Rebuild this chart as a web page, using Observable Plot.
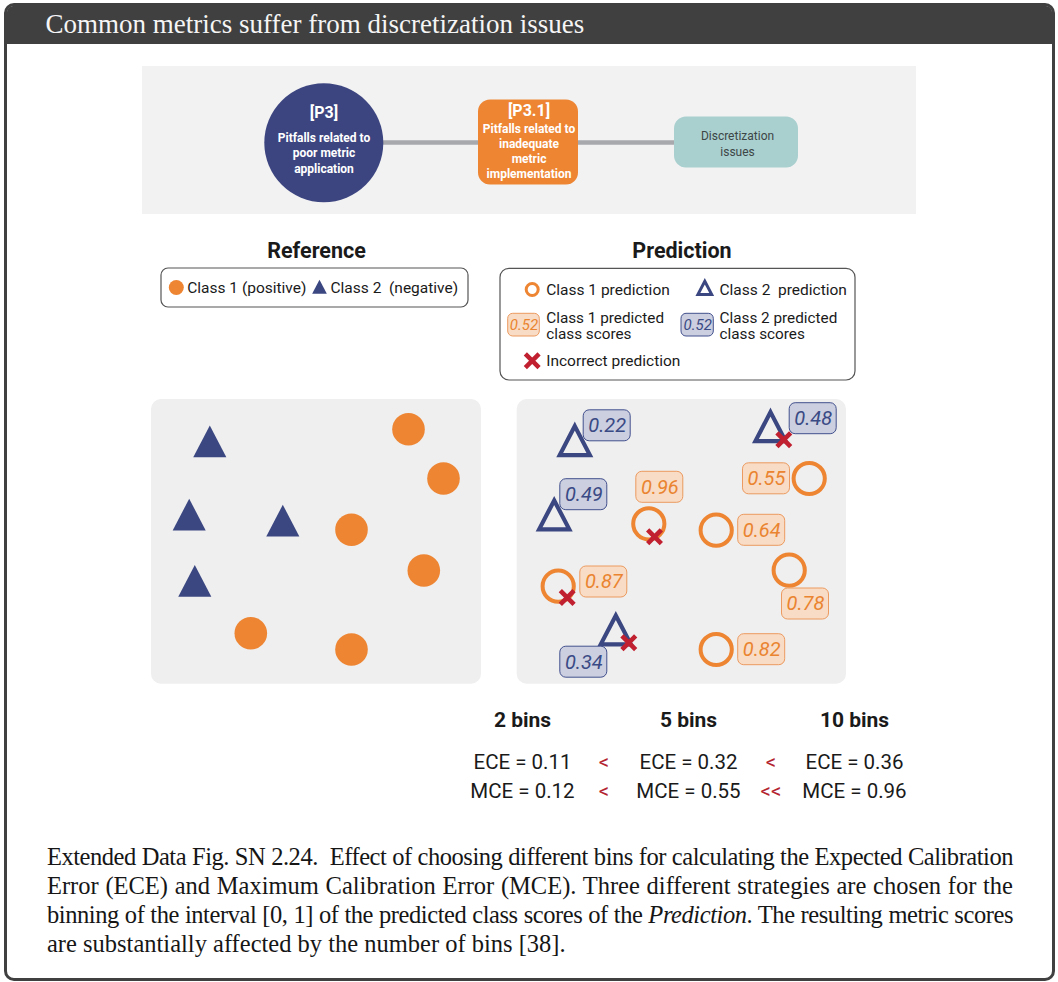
<!DOCTYPE html>
<html>
<head>
<meta charset="utf-8">
<script src="https://cdn.jsdelivr.net/npm/d3@7"></script>
<script src="https://cdn.jsdelivr.net/npm/@observablehq/plot@0.6"></script>
<style>
html, body { margin: 0; padding: 0; background: #fff; }
body { width: 1058px; height: 982px; position: relative; overflow: hidden; }
#frame { position: absolute; left: 4px; top: 3px; width: 1051px; height: 978px; box-sizing: border-box;
  border: 3.5px solid #404040; border-radius: 10px; }
#titlebar { position: absolute; left: 0; top: 0; right: 0; height: 37.5px; background: #404040;
  border-radius: 6px 6px 0 0; color: #f5f5f5; font-family: "Liberation Serif", serif; font-size: 27px;
  line-height: 37px; padding-left: 38.5px; }
#chart { position: absolute; left: 0; top: 0; }
#caption { position: absolute; left: 47px; top: 842px; width: 966px; font-family: "Liberation Serif", serif;
  font-size: 24.5px; line-height: 29px; color: #161616; }
#caption .j { text-align: justify; text-align-last: justify; white-space: nowrap; }
</style>
</head>
<body>
<div id="frame"><div id="titlebar">Common metrics suffer from discretization issues</div></div>
<div id="chart"></div>
<div id="caption">
  <div class="j">Extended Data Fig. SN 2.24.&nbsp; Effect of choosing different bins for calculating the Expected Calibration</div>
  <div class="j">Error (ECE) and Maximum Calibration Error (MCE). Three different strategies are chosen for the</div>
  <div class="j">binning of the interval [0, 1] of the predicted class scores of the <i>Prediction</i>. The resulting metric scores</div>
  <div>are substantially affected by the number of bins [38].</div>
</div>
<script>
// ---------- data ----------
// Reference panel (page units)
const refClass1 = [
  {x: 408.0, y: 428.7}, {x: 443.0, y: 478.0}, {x: 351.0, y: 529.3},
  {x: 423.3, y: 570.0}, {x: 250.3, y: 632.7}, {x: 351.0, y: 649.0}
];
const refClass2 = [
  {x: 209.3, y: 446.1}, {x: 188.7, y: 519.4}, {x: 282.3, y: 525.4}, {x: 194.3, y: 585.7}
];
// Prediction panel: points, predicted score, label anchor
const predClass1 = [
  {x: 648.3, y: 523.3, score: 0.96, lx: 659.3, ly: 486.8},
  {x: 715.7, y: 529.7, score: 0.64, lx: 761.2, ly: 529.8},
  {x: 808.7, y: 478.0, score: 0.55, lx: 766.0, ly: 478.3},
  {x: 557.7, y: 585.7, score: 0.87, lx: 603.3, ly: 581.5},
  {x: 788.7, y: 569.7, score: 0.78, lx: 805.0, ly: 603.5},
  {x: 715.7, y: 649.0, score: 0.82, lx: 761.2, ly: 649.2}
];
const predClass2 = [
  {x: 574.3, y: 444.9, score: 0.22, lx: 606.7, ly: 425.3},
  {x: 553.7, y: 519.2, score: 0.49, lx: 583.3, ly: 494.2},
  {x: 615.3, y: 634.2, score: 0.34, lx: 583.3, ly: 661.7},
  {x: 770.0, y: 430.9, score: 0.48, lx: 812.7, ly: 418.2}
];
const incorrect = [
  {x: 654.0, y: 536.3}, {x: 566.7, y: 597.0}, {x: 628.3, y: 642.3}, {x: 783.3, y: 439.3}
];
// Metrics
const binLabels = ["2 bins", "5 bins", "10 bins"];
const eceValues = [0.11, 0.32, 0.36];
const mceValues = [0.12, 0.55, 0.96];
const eceOps = ["<", "<"];
const mceOps = ["<", "<<"];
// Diagram labels
const diagramTexts = [
  {title: "[P3]", body: "Pitfalls related to\npoor metric\napplication"},
  {title: "[P3.1]", body: "Pitfalls related to\ninadequate\nmetric\nimplementation"},
  {title: "", body: "Discretization\nissues"}
];

// ---------- styles ----------
const NAVY = "#3b4781", ORANGE = "#ed8533", RED = "#c0202f", DARKRED = "#b32430";
const SANS = "Roboto, 'Noto Sans', sans-serif";
const tri = {draw(ctx, size) {
  const r = Math.sqrt(size / Math.PI), h = 2.35 * r, w = 2.45 * r;
  ctx.moveTo(0, -2 * h / 3); ctx.lineTo(w / 2, h / 3); ctx.lineTo(-w / 2, h / 3); ctx.closePath();
}};
const colX = [522, 688, 854], opX = [603.5, 770.5];
const BW = 47, BH = 31;

const marks = [
  // diagram
  Plot.rect([0], {x1: 142, x2: 916, y1: 66, y2: 214, fill: "#f2f2f2"}),
  Plot.link([0], {x1: 330, x2: 700, y1: 142, y2: 142, stroke: "#a7a9ac", strokeWidth: 4.5}),
  Plot.dot([0], {x: 323.3, y: 142.2, r: 59.5, fill: "#3c4580"}),
  Plot.rect([0], {x1: 478, x2: 578, y1: 99.5, y2: 184.5, rx: 12, fill: "#ee8533"}),
  Plot.rect([0], {x1: 674, x2: 798, y1: 116.5, y2: 167.5, rx: 12, fill: "#a9cfcf"}),
  Plot.text([diagramTexts[0]], {x: 323.5, y: 112.7, text: "title", fill: "white", fontSize: 16, fontWeight: "bold", fontFamily: SANS}),
  Plot.text([diagramTexts[0]], {x: 323.5, y: 151.8, text: "body", fill: "white", fontSize: 12, fontWeight: "bold", lineHeight: 1.29, fontFamily: SANS}),
  Plot.text([diagramTexts[1]], {x: 528.5, y: 110, text: "title", fill: "white", fontSize: 16, fontWeight: "bold", fontFamily: SANS}),
  Plot.text([diagramTexts[1]], {x: 528.5, y: 150, text: "body", fill: "white", fontSize: 12, fontWeight: "bold", lineHeight: 1.25, fontFamily: SANS}),
  Plot.text([diagramTexts[2]], {x: 737, y: 142.8, text: "body", fill: "#3d4646", fontSize: 12, lineHeight: 1.31, fontFamily: SANS}),

  // headings
  Plot.text(["Reference", "Prediction"], {x: (d, i) => [316, 681.5][i], y: 250.5, text: d => d, fontSize: 21.5, fontWeight: "bold", fill: "#1a1a1a", fontFamily: SANS}),

  // reference legend
  Plot.rect([0], {x1: 161, x2: 468, y1: 268, y2: 307, rx: 7, fill: "white", stroke: "#555", strokeWidth: 1.2}),
  Plot.dot([0], {x: 175.8, y: 287, r: 7.5, fill: ORANGE}),
  Plot.dot([0], {x: 319, y: 288.6, r: 6, symbol: tri, fill: NAVY}),
  Plot.text(["Class 1 (positive)", "Class 2\u00a0 (negative)"], {x: (d, i) => [186.7, 330][i], y: 288, text: d => d, textAnchor: "start", fontSize: 15.5, fill: "#1a1a1a", fontFamily: SANS}),

  // prediction legend
  Plot.rect([0], {x1: 500, x2: 855, y1: 268.3, y2: 380, rx: 9, fill: "white", stroke: "#555", strokeWidth: 1.2}),
  Plot.dot([0], {x: 531.7, y: 289, r: 6, stroke: ORANGE, strokeWidth: 3, fill: "none"}),
  Plot.dot([0], {x: 704.3, y: 289.5, r: 5.6, symbol: tri, stroke: NAVY, strokeWidth: 3, fill: "none", strokeLinejoin: "miter"}),
  Plot.rect([0], {x1: 507.7, x2: 539.3, y1: 313.3, y2: 336, rx: 5, fill: "#f8dcc6", stroke: "#ec9a5f", strokeWidth: 1}),
  Plot.rect([0], {x1: 681, x2: 713.3, y1: 313.3, y2: 336, rx: 5, fill: "#cbcfdf", stroke: "#42508d", strokeWidth: 1}),
  Plot.text(["0.52"], {x: 523.5, y: 325, text: d => d, fontSize: 15, fontStyle: "italic", fill: "#ea8430", fontFamily: SANS}),
  Plot.text(["0.52"], {x: 697.2, y: 325, text: d => d, fontSize: 15, fontStyle: "italic", fill: "#3a4a85", fontFamily: SANS}),
  Plot.dot([0], {x: 531.7, y: 360.3, r: 6.3, symbol: "times", stroke: RED, strokeWidth: 4.5}),
  Plot.text(["Class 1 prediction", "Class 2\u00a0 prediction"], {x: (d, i) => [545.7, 719][i], y: 289.5, text: d => d, textAnchor: "start", fontSize: 15.5, fill: "#1a1a1a", fontFamily: SANS}),
  Plot.text(["Class 1 predicted", "Class 2 predicted"], {x: (d, i) => [545.7, 719][i], y: 317.3, text: d => d, textAnchor: "start", fontSize: 15.3, fill: "#1a1a1a", fontFamily: SANS}),
  Plot.text(["class scores", "class scores"], {x: (d, i) => [545.7, 719][i], y: 333.2, text: d => d, textAnchor: "start", fontSize: 15.3, fill: "#1a1a1a", fontFamily: SANS}),
  Plot.text(["Incorrect prediction"], {x: 545.7, y: 360.5, text: d => d, textAnchor: "start", fontSize: 15.5, fill: "#1a1a1a", fontFamily: SANS}),

  // panels
  Plot.rect([0, 1], {x1: (d) => [151, 516.7][d], x2: (d) => [481, 846][d], y1: 399, y2: 683.7, rx: 10, fill: "#efefef", ariaLabel: "panel"}),

  // reference points
  Plot.dot(refClass2, {x: "x", y: "y", r: 13.5, symbol: tri, fill: NAVY}),
  Plot.dot(refClass1, {x: "x", y: "y", r: 16.3, fill: ORANGE}),

  // prediction points
  Plot.dot(predClass2, {x: "x", y: "y", r: 12.3, symbol: tri, stroke: NAVY, strokeWidth: 4.2, fill: "none", strokeLinejoin: "miter"}),
  Plot.dot(predClass1, {x: "x", y: "y", r: 15.6, stroke: ORANGE, strokeWidth: 4, fill: "none"}),
  Plot.rect(predClass2, {x1: d => d.lx - BW / 2, x2: d => d.lx + BW / 2, y1: d => d.ly - BH / 2, y2: d => d.ly + BH / 2, rx: 6, fill: "#cbcfdf", stroke: "#42508d", strokeWidth: 1}),
  Plot.rect(predClass1, {x1: d => d.lx - BW / 2, x2: d => d.lx + BW / 2, y1: d => d.ly - BH / 2, y2: d => d.ly + BH / 2, rx: 6, fill: "#f8dcc6", stroke: "#ec9a5f", strokeWidth: 1}),
  Plot.text(predClass2, {x: "lx", y: "ly", text: d => d.score.toFixed(2), fontSize: 20, fontStyle: "italic", fill: "#3a4a85", fontFamily: SANS}),
  Plot.text(predClass1, {x: "lx", y: "ly", text: d => d.score.toFixed(2), fontSize: 20, fontStyle: "italic", fill: "#ea8430", fontFamily: SANS}),
  Plot.dot(incorrect, {x: "x", y: "y", r: 6.3, symbol: "times", stroke: RED, strokeWidth: 4.6}),

  // metrics
  Plot.text(binLabels, {x: (d, i) => colX[i], y: 720, text: d => d, fontSize: 21, fontWeight: "bold", fill: "#1a1a1a", fontFamily: SANS}),
  Plot.text(eceValues, {x: (d, i) => colX[i], y: 762, text: d => `ECE = ${d.toFixed(2)}`, fontSize: 20.5, fill: "#1a1a1a", fontFamily: SANS}),
  Plot.text(mceValues, {x: (d, i) => colX[i], y: 790.5, text: d => `MCE = ${d.toFixed(2)}`, fontSize: 20.5, fill: "#1a1a1a", fontFamily: SANS}),
  Plot.text(eceOps, {x: (d, i) => opX[i], y: 762, text: d => d, fontSize: 20.5, fill: DARKRED, fontFamily: SANS}),
  Plot.text(mceOps, {x: (d, i) => opX[i], y: 790.5, text: d => d, fontSize: 20.5, fill: DARKRED, fontFamily: SANS})
];

const chart = Plot.plot({
  width: 1058, height: 820, margin: 0,
  x: {domain: [0, 1058], range: [0, 1058], axis: null},
  y: {domain: [0, 820], range: [0, 820], axis: null},
  style: {background: "transparent", overflow: "visible"},
  marks
});
d3.select(chart).selectAll("g[aria-label=panel] rect").style("filter", "drop-shadow(1px 2px 3px rgba(0,0,0,0.10))");
d3.select(chart).selectAll("text").style("white-space", "pre");
document.getElementById("chart").appendChild(chart);

// fit justified caption lines into the text block width
function fitCaption() {
  const cap = document.getElementById("caption");
  cap.querySelectorAll(".j").forEach(el => {
    el.style.letterSpacing = "";
    const span = document.createElement("span");
    span.innerHTML = el.innerHTML;
    span.style.cssText = "white-space:nowrap;visibility:hidden;position:absolute;left:0;top:0;";
    cap.appendChild(span);
    const w = span.getBoundingClientRect().width;
    span.remove();
    const target = 962;
    if (w > target) el.style.letterSpacing = ((target - w) / el.textContent.length).toFixed(3) + "px";
  });
}
fitCaption();
if (document.fonts && document.fonts.ready) document.fonts.ready.then(fitCaption);
</script>
</body>
</html>
